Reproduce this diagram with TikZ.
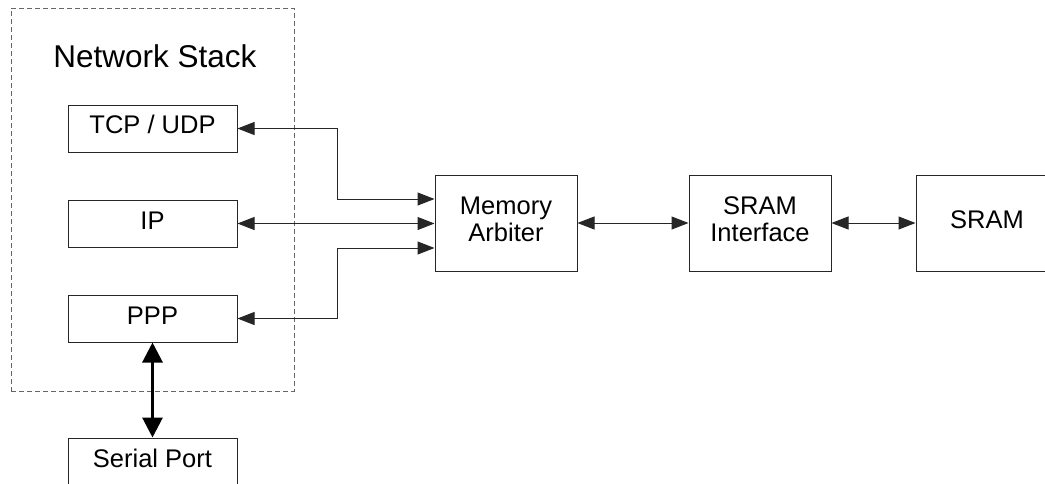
\documentclass[tikz,border=0pt]{standalone}
\usepackage{fontspec}
\setmainfont{Liberation Sans}
\usetikzlibrary{arrows.meta,calc}
\begin{document}
\begin{tikzpicture}[x=1pt,y=-1pt,
  box/.style={draw=black!85, line width=1pt, minimum width=169pt, minimum height=47pt, inner sep=0pt},
  bigbox/.style={draw=black!85, line width=1pt, minimum width=142pt, minimum height=96pt, inner sep=0pt},
  txt/.style={font=\fontsize{25.5}{27}\selectfont, align=center, inner sep=0pt},
  conn/.style={draw=black!85, line width=1pt},
  bitip/.style={{Triangle[length=17pt,width=13pt]}-{Triangle[length=17pt,width=13pt]}},
  thick conn/.style={draw=black, line width=3pt, {Triangle[length=20pt,width=20pt]}-{Triangle[length=20pt,width=20pt]}}
]
\useasboundingbox (0,0) rectangle (1045,483);
\clip (0,0) rectangle (1045,483);
\fill[white] (0,0) rectangle (1045,483);

% container
\node[draw=black!60, dashed, dash pattern=on 5pt off 3pt, line width=1pt, minimum width=283pt, minimum height=383pt, inner sep=0pt] (stack) at (152.5,199.5) {};
\node[font=\fontsize{31.5}{33}\selectfont, anchor=base, inner sep=0pt] (title) at (155,67) {Network Stack};

% boxes
\node[box, label={[txt, yshift=4pt]center:TCP / UDP}] (tcp) at (152.5,128.5) {};
\node[box, label={[txt, yshift=2.5pt]center:IP}] (ip) at (152.5,223.5) {};
\node[box, label={[txt, yshift=2.5pt]center:PPP}] (ppp) at (152.5,318.5) {};
\node[box, minimum height=60pt, label={[txt, yshift=-30pt]north:Serial Port}] (serial) at (152.5,468) {};
\node[bigbox, label={[txt, yshift=3.5pt]center:Memory\\Arbiter}] (arb) at (506,223) {};
\node[bigbox, label={[txt, yshift=3.5pt]center:SRAM\\Interface}] (sif) at (760,223) {};
\node[bigbox, label={[txt, yshift=3pt]center:SRAM}] (sram) at (987,223) {};

% entry points on the arbiter
\coordinate (in1) at ($(arb.west)+(0,-24)$);
\coordinate (in3) at ($(arb.west)+(0,25)$);
\coordinate (tcpbend) at ($(tcp.east)+(100,0)$);
\coordinate (pppbend) at ($(ppp.east)+(100,0)$);

% connectors
\draw[conn, bitip] (tcp.east) -- (tcpbend) |- (in1);
\draw[conn, bitip] (ip.east) -- (ip.east -| arb.west);
\draw[conn, bitip] (ppp.east) -- (pppbend) |- (in3);
\draw[conn, bitip] (arb.east) -- (sif.west);
\draw[conn, bitip] (sif.east) -- (sram.west);
\draw[thick conn] (ppp.south) -- (serial.north);
\end{tikzpicture}
\end{document}
